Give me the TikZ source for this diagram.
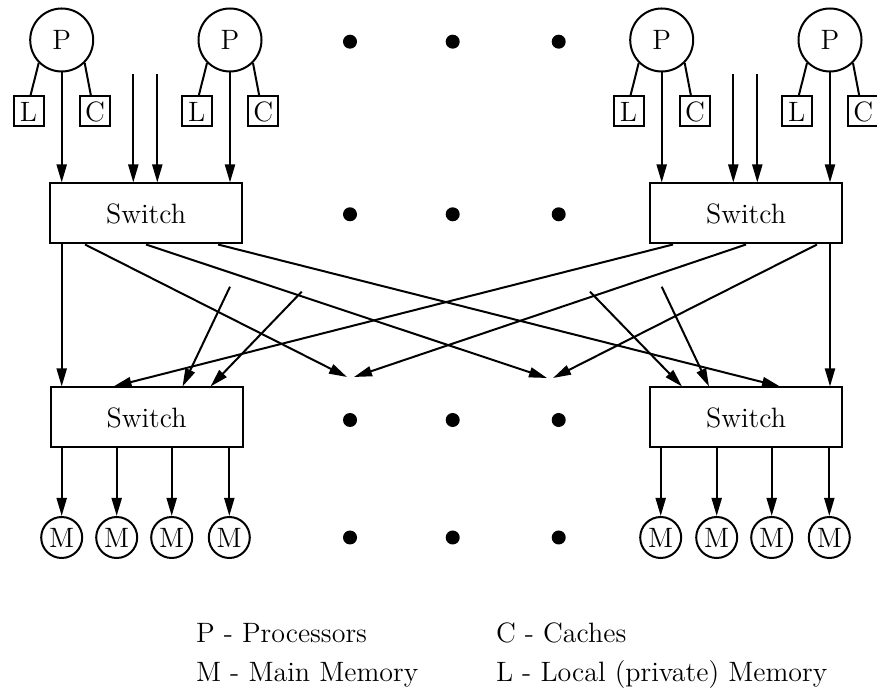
\documentclass[tikz,border=0pt]{standalone}
\usetikzlibrary{arrows.meta, positioning, calc}

\begin{document}
\begin{tikzpicture}[
    x=0.5pt, y=-0.5pt,
    font=\fontsize{14}{17}\selectfont,
    >={Triangle[length=9pt, width=5pt]},
    line width=1pt,
    % --- styles ---
    % processor: plain circle
    proc/.style={draw, circle, minimum size=31.5pt, inner sep=0pt},
    % local memory / cache: small square
    unit/.style={draw, minimum size=15pt, inner sep=0pt},
    % switch box
    switch/.style={draw, minimum width=96pt, minimum height=30pt, inner sep=0pt},
    % main memory module
    mem/.style={draw, circle, minimum size=20.5pt, inner sep=0pt},
    % "and so on" dots
    more/.style={circle, fill, minimum size=7pt, inner sep=0pt},
    legend/.style={anchor=base west, inner sep=0pt}
]
\useasboundingbox (0,0) rectangle (877,688);

% ==================== processors with L and C ====================
\foreach \n/\x in {1/61.7, 2/230, 3/661.7, 4/830} {
    \node[proc] (p\n) at (\x,40) {P};
    \node[unit] (l\n) at ({\x-33.2},111.5) {L};
    \node[unit] (c\n) at ({\x+33.2},111.5) {C};
    \draw (p\n.225) -- ([xshift=1pt]l\n.north);
    \draw (p\n.315) -- ([xshift=-2pt]c\n.north);
}

% ==================== switches ====================
\node[switch] (sw1) at (146,213.5) {Switch};
\node[switch] (sw2) at (746,213.5) {Switch};
\node[switch] (sw3) at (146.5,417.5) {Switch};
\node[switch] (sw4) at (746,417.5) {Switch};

% processors into the first stage
\draw[->] (p1) -- (p1 |- sw1.north);
\draw[->] (p2) -- (p2 |- sw1.north);
\draw[->] (p3) -- (p3 |- sw2.north);
\draw[->] (p4) -- (p4 |- sw2.north);

% other inputs (no source drawn)
\coordinate (in1a) at (133.3,74);
\coordinate (in1b) at (157.3,74);
\coordinate (in2a) at (733.3,74);
\coordinate (in2b) at (757.3,74);
\draw[->] (in1a) -- (in1a |- sw1.north);
\draw[->] (in1b) -- (in1b |- sw1.north);
\draw[->] (in2a) -- (in2a |- sw2.north);
\draw[->] (in2b) -- (in2b |- sw2.north);

% ==================== stage 1 -> stage 2 ====================
\draw[->] (sw1.south -| p1) -- (sw3.north -| p1);
\draw[->] (sw2.south -| p4) -- (sw4.north -| p4);

% links ending at the middle (elided) switches
\coordinate (hub1l) at (347,377);
\coordinate (hub1r) at (354,377);
\coordinate (hub2l) at (547,378);
\coordinate (hub2r) at (553,378);

\draw[->] ($(sw1.south west)+(36,0)$) -- (hub1l);
\draw[->] (sw1.south) -- (hub2l);
\draw[->] ($(sw1.south west)+(169,0)$) -- ($(sw4.north west)+(131,0)$);
\draw[->] ($(sw2.south west)+(24,0)$) -- ($(sw3.north west)+(64,0)$);
\draw[->] (sw2.south) -- (hub1r);
\draw[->] ($(sw2.south west)+(168,0)$) -- (hub2r);

% links coming from the middle (elided) switches
\coordinate (st1) at (230,286.7);
\coordinate (st2) at (301.7,291.7);
\coordinate (st3) at (590,291.7);
\coordinate (st4) at (661.7,286.7);
\draw[->] (st1) -- ($(sw3.north west)+(133,0)$);
\draw[->] (st2) -- ($(sw3.north west)+(161,0)$);
\draw[->] (st3) -- ($(sw4.north west)+(33,0)$);
\draw[->] (st4) -- ($(sw4.north west)+(60,0)$);

% ==================== memories ====================
\foreach \n/\x in {1/61.7, 2/116.7, 3/171.7, 4/229.3} {
    \node[mem] (ml\n) at (\x,537.5) {M};
    \draw[->] (sw3.south -| ml\n) -- (ml\n);
}
\foreach \n/\x in {1/660.7, 2/716.7, 3/771.7, 4/829.3} {
    \node[mem] (mr\n) at (\x,537.5) {M};
    \draw[->] (sw4.south -| mr\n) -- (mr\n);
}

% ==================== dots ====================
\foreach \r/\y in {1/41.7, 2/214.3, 3/420, 4/537.5}
    \foreach \c/\x in {1/350, 2/452.7, 3/558.7}
        \node[more] (dot\r\c) at (\x,\y) {};

% ==================== legend ====================
\node[legend] (keyP) at (195,642) {P - Processors};
\node[legend] (keyC) at (495,642) {C - Caches};
\node[legend] (keyM) at (195,681.5) {M - Main Memory};
\node[legend] (keyL) at (495,681.5) {L - Local (private) Memory};

\end{tikzpicture}
\end{document}
